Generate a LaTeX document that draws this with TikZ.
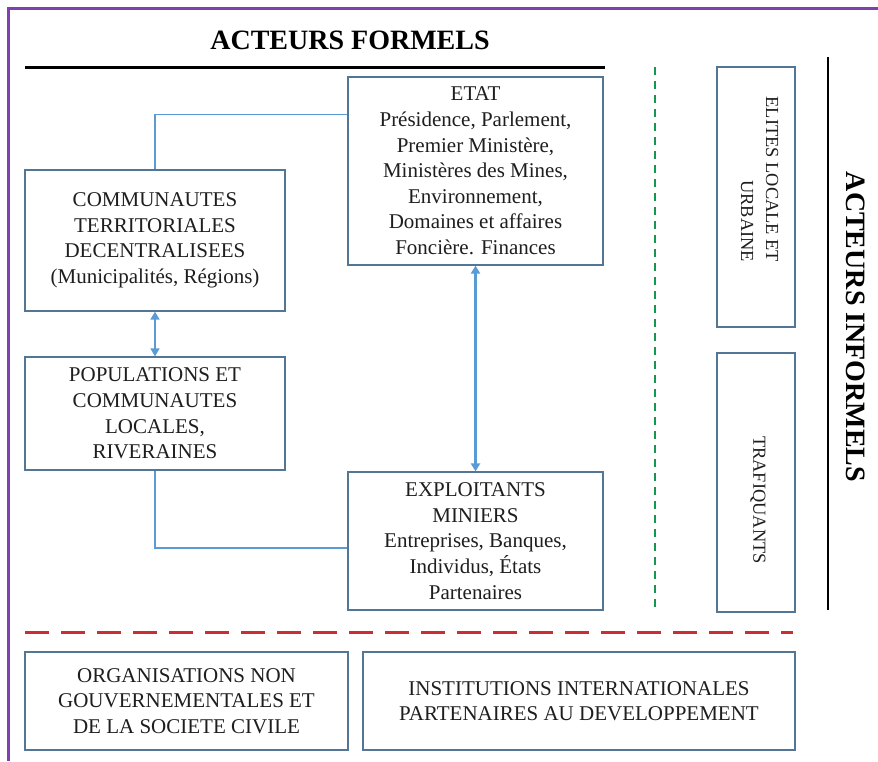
\documentclass[tikz,border=0pt]{standalone}
\usepackage{fontspec}
\setmainfont{Liberation Serif}
\usetikzlibrary{arrows.meta}

\definecolor{framepurple}{RGB}{128,64,176}
\definecolor{boxline}{RGB}{84,118,150}
\definecolor{linkblue}{RGB}{91,155,213}
\definecolor{dashgreen}{RGB}{20,150,80}
\definecolor{dashred}{RGB}{205,45,50}
\definecolor{inkgray}{RGB}{30,30,30}

\tikzset{
  acteur/.style={draw=boxline, line width=0.6pt, fill=white, align=center,
    text=inkgray, inner sep=0pt, font=\fontsize{10.5}{12.8}\selectfont},
  lien/.style={draw=linkblue, line width=0.6pt},
  echange/.style={draw=linkblue, {Triangle[width=4.5pt,length=4pt]}-{Triangle[width=4.5pt,length=4pt]}},
  titre/.style={text=black, font=\fontsize{14}{16}\selectfont\bfseries},
  vertical/.style={acteur, draw=none, fill=none, rotate=-90, font=\fontsize{9.2}{12.5}\selectfont}
}

\begin{document}
\begin{tikzpicture}[x=0.5pt,y=-0.5pt]
\useasboundingbox (0,0) rectangle (878,761);

% Frame
\draw[framepurple, line width=1.5pt] (8,761) -- (8,8) -- (878,8);

% Titles
\node[titre] (formels) at (350,40) {ACTEURS FORMELS};
\draw[black, line width=1.5pt] (25,67) -- (605,67);
\node[titre, rotate=-90] (informels) at (856,327) {ACTEURS INFORMELS};
\draw[black, line width=1.1pt] (828,57) -- (828,610);

% Formal actors
\node[acteur, minimum width=127.5pt, minimum height=94pt] (etat) at (475.5,171)
  {ETAT\\Présidence, Parlement,\\Premier Ministère,\\Ministères des Mines,\\Environnement,\\Domaines et affaires\\Foncière. Finances};
\node[acteur, minimum width=130pt, minimum height=70.5pt] (ctd) at (155,240.5)
  {COMMUNAUTES\\TERRITORIALES\\DECENTRALISEES\\(Municipalités, Régions)};
\node[acteur, minimum width=130pt, minimum height=56.5pt] (pop) at (155,413.5)
  {POPULATIONS ET\\COMMUNAUTES\\LOCALES,\\RIVERAINES};
\node[acteur, minimum width=127.5pt, minimum height=69pt] (expl) at (475.5,541)
  {EXPLOITANTS\\MINIERS\\Entreprises, Banques,\\Individus, États\\Partenaires};

% Links
\draw[lien] ([yshift=-19pt]etat.north west) -| (ctd.north);
\draw[lien] (pop.south) |- ([yshift=-3.5pt]expl.west);
\draw[echange, line width=0.8pt] (ctd.south) -- (pop.north);
\draw[echange, line width=1.4pt] (etat.south) -- (expl.north);

% Separators
\draw[dashgreen, line width=1pt, dash pattern=on 4pt off 3pt] (655,67) -- (655,610);
\draw[dashred, line width=1.5pt, dash pattern=on 12pt off 6pt] (25,632) -- (793,632);

% Informal actors
\node[acteur, minimum width=39pt, minimum height=130pt] (elites) at (756,197) {};
\node[vertical, align=right, anchor=north west] (elitestxt) at (779,96)
  {ELITES LOCALE ET\\URBAINE};
\node[acteur, minimum width=39pt, minimum height=129.5pt] (trafic) at (756,482.5) {};
\node[vertical] (trafictxt) at (758,500) {TRAFIQUANTS};

% Other actors
\node[acteur, minimum width=161.5pt, minimum height=49pt] (ong) at (186.5,701)
  {ORGANISATIONS NON\\GOUVERNEMENTALES ET\\DE LA SOCIETE CIVILE};
\node[acteur, minimum width=216pt, minimum height=49pt] (inst) at (579,701)
  {INSTITUTIONS INTERNATIONALES\\PARTENAIRES AU DEVELOPPEMENT};
\end{tikzpicture}
\end{document}
